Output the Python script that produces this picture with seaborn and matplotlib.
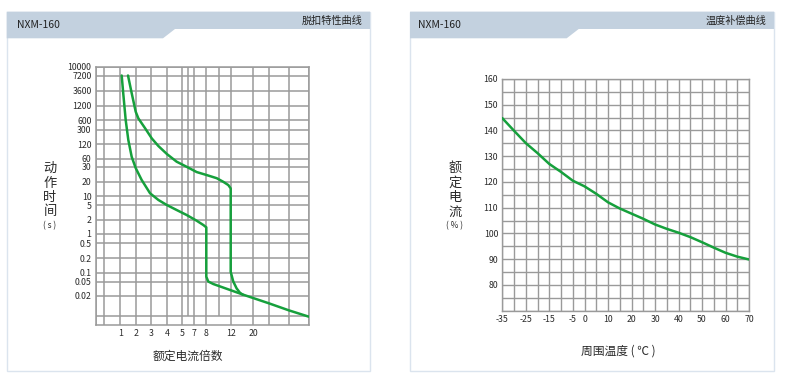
import numpy as np
import pandas as pd
import matplotlib
matplotlib.use("Agg")
import matplotlib.pyplot as plt
from matplotlib.patches import Polygon, Rectangle
import seaborn as sns

# -------------------------------
# data: trip characteristic (left)
# -------------------------------
upper_mult = [1.5, 1.74, 2.0, 2.17, 2.6, 3.03, 3.45, 4.0, 4.63, 5.81, 7.2, 8.03,
              9.64, 10.7, 11.6, 12, 12, 12.9, 14.1, 15.3, 16.4]
upper_time = [7200, 3000, 900, 650, 330, 171, 109, 74, 46, 30, 26, 24,
              22, 20, 17, 14.5, 0.104, 0.05, 0.032, 0.024, 0.021]
lower_mult = [1.09, 1.19, 1.35, 1.52, 1.74, 2.0, 2.38, 2.92, 3.45, 3.98, 4.63, 5.81,
              7.2, 7.75, 8.0, 8.0, 8.3, 9.1, 16.7, 20, 30, 40, 50]
lower_time = [7200, 3000, 600, 155, 65, 29, 21, 11.5, 7.5, 5.1, 3.7, 2.7,
              1.91, 1.55, 1.38, 0.073, 0.05, 0.0425, 0.021, 0.0184, 0.0153, 0.012, 0.0092]

time_ticks = [10000, 7200, 3600, 1200, 600, 300, 120, 60, 30, 20, 10, 5, 2, 1,
              0.5, 0.2, 0.1, 0.05, 0.02]
time_labels = ["10000", "7200", "3600", "1200", "600", "300", "120", "60", "30", "20",
               "10", "5", "2", "1", "0.5", "0.2", "0.1", "0.05", "0.02"]
mult_ticks = [1, 2, 3, 4, 5, 7, 8, 12, 20]
mult_labels = ["1", "2", "3", "4", "5", "7", "8", "12", "20"]

# -------------------------------
# data: temperature compensation (right)
# -------------------------------
temp = [-35, -30, -25, -20, -15, -10, -5, 0, 5, 10, 15, 20, 25, 30, 35, 40, 45, 50, 55, 60, 65, 70]
rated_pct = [144.8, 139.9, 135.1, 131.2, 127.0, 123.9, 120.5, 118.3, 115.4, 112.1, 109.7,
             107.7, 105.7, 103.5, 101.8, 100.3, 98.6, 96.6, 94.5, 92.5, 91.0, 89.9]
temp_ticks = [-35, -25, -15, -5, 0, 10, 20, 30, 40, 50, 60, 70]
pct_ticks = [80, 90, 100, 110, 120, 130, 140, 150, 160]

# -------------------------------
# layout (pixel rows/cols of the irregular grid)
# -------------------------------
W, H = 790, 380
row_vals = time_ticks + [0.01, 0.005]
row_px = [66.7, 75.5, 90.7, 105.8, 120, 129.5, 144, 158.5, 166.8, 181.7, 196.2, 205.2,
          219.8, 233.9, 243.2, 258.3, 272.6, 281.5, 295.7, 315.5, 325]
col_vals = [0, 0.5, 1, 2, 3, 4, 5, 6, 7, 8, 10, 12, 20, 30, 40, 50]
col_px = [95.7, 104.3, 120.3, 135.7, 151.3, 167, 182.3, 187.7, 194.3, 206.3, 219,
          230.7, 253.3, 269, 288.7, 308.7]

lg_asc = np.log10(row_vals)[::-1]
h_asc = (325 - np.array(row_px))[::-1]


def y_fwd(v):
    return np.interp(np.log10(np.clip(v, 1e-9, None)), lg_asc, h_asc)


def y_inv(h):
    return 10 ** np.interp(h, h_asc, lg_asc)


def x_fwd(v):
    return np.interp(v, col_vals, col_px)


def x_inv(p):
    return np.interp(p, col_px, col_vals)


GREEN = "#16a03c"
GRID = "#9a9a9a"
TXT = "#2a2a2a"

sns.set_style("white")
plt.rcParams["font.family"] = ["Noto Sans CJK SC", "DejaVu Sans"]
plt.rcParams["axes.unicode_minus"] = False

fig = plt.figure(figsize=(W / 100, H / 100), dpi=100)


def fx(x):
    return x / W


def fy(y):
    return 1 - y / H


# panels with header bands
for x0, x1, notch, title, name_x in [(6.7, 370, 163, "脱扣特性曲线", 16.7),
                                     (410, 774, 566.7, "温度补偿曲线", 418.3)]:
    fig.patches.append(Rectangle((fx(x0), fy(371)), fx(x1 - x0), (371 - 11.7) / H,
                                 transform=fig.transFigure, facecolor="white",
                                 edgecolor="#dbe4ee", lw=1, zorder=-2))
    pts = [(x0, 38.3), (notch, 38.3), (notch + 12, 29), (x1, 29), (x1, 11.7), (x0, 11.7)]
    fig.patches.append(Polygon([(fx(a), fy(b)) for a, b in pts], closed=True,
                               transform=fig.transFigure, facecolor="#c3d1df",
                               edgecolor="none", zorder=-1))
    fig.text(fx(name_x), fy(25), "NXM-160", fontsize=7.5, color="#222222", va="center")
    fig.text(fx(x1 - 7.5), fy(21), title, fontsize=7.3, color="#222222", va="center", ha="right")

# -------------------------------
# left: trip curve
# -------------------------------
ax1 = fig.add_axes([fx(95.7), fy(325), (308.7 - 95.7) / W, (325 - 66.7) / H])
ax1.set_xscale("function", functions=(x_fwd, x_inv))
ax1.set_yscale("function", functions=(y_fwd, y_inv))
ax1.set_xlim(0, 50)
ax1.set_ylim(0.005, 10000)

for v in row_vals[:-1]:
    ax1.axhline(v, color=GRID, lw=1.1, zorder=1)
for v in col_vals:
    if v in (6, 10):
        ax1.vlines(v, 0.01, 10000, color=GRID, lw=1.1, zorder=1)
    else:
        ax1.axvline(v, color=GRID, lw=1.1, zorder=1)

sns.lineplot(x=upper_mult, y=upper_time, sort=False, estimator=None,
             color=GREEN, lw=1.8, ax=ax1, zorder=3)
sns.lineplot(x=lower_mult, y=lower_time, sort=False, estimator=None,
             color=GREEN, lw=1.8, ax=ax1, zorder=3)

ax1.set_yticks(time_ticks)
ax1.set_yticklabels(time_labels)
ax1.set_xticks(mult_ticks)
ax1.set_xticklabels(mult_labels)
ax1.minorticks_off()
ax1.tick_params(length=0, labelsize=6.3, colors=TXT, pad=3)
for s in ax1.spines.values():
    s.set_color(GRID)
    s.set_linewidth(1.1)

for ch, yy in zip(["动", "作", "时", "间"], [168, 183, 197.5, 212]):
    fig.text(fx(50), fy(yy), ch, fontsize=9.5, color=TXT, ha="center", va="center")
fig.text(fx(50), fy(225.5), "( s )", fontsize=6, color=TXT, ha="center", va="center")
fig.text(fx(188), fy(356), "额定电流倍数", fontsize=8.5, color=TXT, ha="center", va="center")

# -------------------------------
# right: temperature compensation
# -------------------------------
ax2 = fig.add_axes([fx(502.3), fy(310.7), (749 - 502.3) / W, (310.7 - 79) / H])
df = pd.DataFrame({"temp": temp, "pct": rated_pct})
sns.lineplot(data=df, x="temp", y="pct", color=GREEN, lw=1.8, ax=ax2, zorder=3)
ax2.set_xlim(-35, 70)
ax2.set_ylim(70, 160)
ax2.set_xticks(temp_ticks)
ax2.set_xticks(np.arange(-35, 71, 5), minor=True)
ax2.set_yticks(pct_ticks)
ax2.set_yticks(np.arange(70, 161, 5), minor=True)
ax2.grid(True, which="both", color=GRID, lw=1.0, zorder=1)
ax2.set_axisbelow(True)
ax2.tick_params(which="both", length=0, labelsize=6.3, colors=TXT, pad=3)
ax2.set_xlabel("")
ax2.set_ylabel("")
for s in ax2.spines.values():
    s.set_color(GRID)
    s.set_linewidth(1.0)

for ch, yy in zip(["额", "定", "电", "流"], [168, 183, 197.5, 212]):
    fig.text(fx(455), fy(yy), ch, fontsize=9.5, color=TXT, ha="center", va="center")
fig.text(fx(455), fy(225.5), "( % )", fontsize=6, color=TXT, ha="center", va="center")
fig.text(fx(618), fy(351), "周围温度 ( ℃ )", fontsize=8.5, color=TXT, ha="center", va="center")

fig.savefig("out.png", dpi=100)
